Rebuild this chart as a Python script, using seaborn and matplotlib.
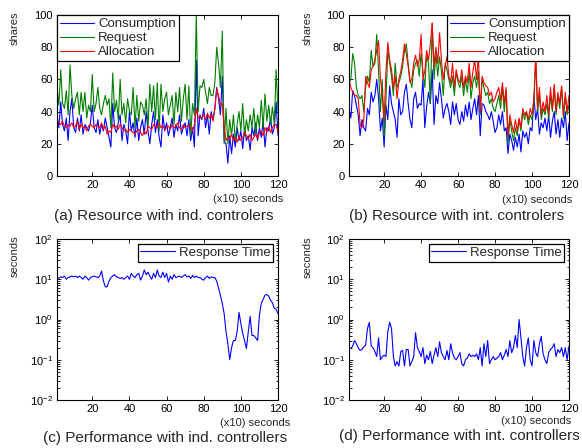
import numpy as np
import pandas as pd
import matplotlib
matplotlib.use("Agg")
import matplotlib.pyplot as plt
import seaborn as sns
from matplotlib.ticker import LogLocator, NullFormatter, FixedLocator

# ---------------- data ----------------
time = list(range(1, 121))

cons_ind = [38, 30, 46, 32, 28, 36, 22, 40, 48, 30,
            27, 36, 28, 38, 26, 32, 30, 28, 33, 44,
            30, 27, 35, 26, 32, 28, 36, 30, 24, 18,
            45, 30, 27, 33, 38, 22, 32, 28, 20, 40,
            28, 33, 24, 36, 22, 30, 35, 26, 40, 28,
            20, 32, 40, 27, 35, 24, 18, 38, 28, 33,
            25, 30, 36, 24, 32, 28, 38, 26, 30, 33,
            25, 35, 22, 30, 18, 72, 25, 38, 35, 42,
            30, 38, 26, 40, 35, 42, 55, 48, 38, 62,
            22, 20, 8, 25, 14, 26, 18, 30, 22, 28,
            17, 30, 22, 25, 16, 30, 25, 33, 22, 30,
            24, 34, 18, 30, 28, 36, 26, 30, 46, 25]

req_ind = [55, 44, 66, 45, 42, 53, 38, 69, 50, 42,
           48, 52, 38, 52, 40, 52, 36, 44, 40, 63,
           40, 45, 55, 42, 38, 45, 50, 44, 48, 30,
           64, 40, 47, 35, 60, 38, 45, 33, 48, 40,
           38, 55, 30, 50, 34, 46, 44, 38, 48, 30,
           57, 40, 56, 35, 58, 28, 57, 40, 48, 52,
           38, 44, 50, 32, 52, 40, 55, 34, 48, 57,
           35, 56, 25, 45, 38, 100, 40, 56, 55, 60,
           52, 45, 55, 50, 50, 58, 80, 70, 55, 90,
           20, 42, 20, 35, 25, 38, 22, 32, 40, 28,
           45, 25, 35, 28, 38, 30, 42, 26, 38, 30,
           47, 30, 51, 34, 44, 32, 43, 32, 66, 40]

alloc_ind = [35, 33, 32, 34, 31, 30, 32, 31, 33, 30,
             31, 34, 29, 32, 30, 31, 28, 31, 32, 31,
             30, 32, 31, 30, 33, 29, 31, 26, 28, 27,
             32, 30, 31, 29, 32, 30, 28, 29, 27, 29,
             28, 27, 26, 28, 29, 27, 25, 28, 26, 31,
             30, 29, 32, 31, 30, 33, 30, 31, 29, 30,
             31, 29, 32, 30, 31, 33, 30, 29, 32, 30,
             31, 32, 30, 28, 32, 42, 36, 37, 36, 38,
             35, 39, 36, 38, 34, 42, 54, 50, 44, 45,
             30, 22, 24, 23, 26, 22, 24, 21, 25, 22,
             24, 27, 25, 23, 26, 22, 24, 26, 23, 27,
             28, 25, 30, 27, 31, 27, 30, 32, 32, 27]

cons_int = [42, 36, 53, 50, 44, 38, 25, 35, 30, 28,
            42, 38, 52, 46, 50, 60, 48, 28, 36, 18,
            44, 35, 56, 45, 40, 35, 24, 48, 38, 40,
            52, 57, 45, 35, 30, 48, 52, 42, 45, 44,
            60, 30, 43, 52, 45, 66, 32, 50, 45, 58,
            48, 36, 42, 45, 40, 32, 46, 38, 45, 35,
            32, 40, 34, 44, 37, 46, 35, 42, 48, 38,
            50, 25, 45, 44, 40, 38, 35, 40, 34, 27,
            30, 38, 32, 40, 28, 30, 14, 26, 22, 16,
            24, 18, 26, 15, 28, 24, 27, 20, 30, 28,
            50, 35, 42, 26, 33, 30, 36, 28, 38, 24,
            34, 40, 26, 35, 24, 36, 30, 40, 22, 33]

req_int = [58, 60, 76, 70, 55, 50, 48, 50, 40, 55,
           62, 58, 78, 68, 70, 88, 65, 40, 60, 25,
           48, 78, 70, 62, 50, 70, 55, 58, 62, 68,
           78, 82, 70, 60, 55, 66, 70, 72, 62, 76,
           65, 55, 75, 70, 45, 95, 60, 76, 62, 74,
           65, 50, 70, 66, 60, 55, 62, 50, 65, 58,
           55, 62, 50, 60, 52, 65, 48, 58, 62, 55,
           65, 38, 60, 55, 50, 52, 45, 48, 42, 40,
           45, 50, 42, 55, 40, 53, 20, 35, 28, 22,
           30, 25, 35, 28, 40, 35, 40, 32, 38, 35,
           45, 73, 40, 50, 35, 42, 38, 45, 36, 50,
           40, 55, 38, 50, 42, 55, 36, 50, 38, 44]

alloc_int = [60, 55, 52, 50, 50, 48, 32, 30, 35, 62,
             58, 55, 66, 68, 72, 78, 84, 60, 50, 35,
             65, 83, 72, 66, 55, 62, 48, 60, 65, 72,
             82, 76, 68, 58, 60, 70, 75, 68, 72, 88,
             60, 65, 78, 72, 82, 95, 68, 80, 70, 89,
             72, 60, 68, 74, 62, 58, 70, 55, 66, 60,
             58, 66, 55, 62, 58, 70, 55, 65, 72, 60,
             75, 40, 62, 58, 56, 55, 50, 52, 46, 48,
             52, 55, 47, 58, 45, 55, 25, 38, 32, 27,
             35, 28, 36, 30, 42, 38, 40, 35, 42, 38,
             48, 75, 42, 55, 38, 46, 40, 50, 38, 55,
             42, 57, 40, 52, 45, 56, 38, 52, 40, 50]

resp_ind = [11, 10.5, 11.5, 11, 12, 10, 11, 11.5, 12, 11.5,
            12, 11, 12, 11, 10, 12, 11, 9.5, 11, 11.5,
            12, 11.5, 11, 12, 16, 9, 6.5, 6.5, 9, 11,
            12, 13, 11.5, 11, 10.5, 11, 10, 11, 12, 10,
            14, 12, 11, 13, 14, 9.5, 12, 17, 13, 15,
            12, 10, 14, 11, 17, 12, 11, 15, 11, 14,
            8.5, 12, 10, 13, 11, 11.5, 12, 11, 12, 13,
            11.5, 12, 10.5, 12.5, 11, 12, 11, 11, 10, 9.5,
            11, 12, 10.5, 11.5, 11, 11, 9, 6, 4, 2.5,
            1.4, 0.5, 0.25, 0.1, 0.2, 0.3, 0.3, 0.5, 1.5, 0.8,
            0.45, 0.3, 0.19, 0.5, 1.2, 0.4, 0.4, 0.35, 0.3, 1.3,
            2.5, 3.2, 4.0, 4.2, 3.8, 3.0, 2.6, 1.9, 1.8, 1.4]

resp_int = [0.2, 0.19, 0.22, 0.3, 0.25, 0.2, 0.17, 0.18, 0.21, 0.23,
            0.6, 0.85, 0.22, 0.2, 0.16, 0.12, 0.35, 0.1, 0.12, 0.13,
            0.12, 0.5, 0.85, 0.6, 0.12, 0.07, 0.09, 0.07, 0.16, 0.17,
            0.07, 0.18, 0.18, 0.07, 0.09, 0.12, 0.47, 0.2, 0.16, 0.12,
            0.2, 0.08, 0.13, 0.1, 0.16, 0.08, 0.13, 0.2, 0.12, 0.28,
            0.15, 0.12, 0.1, 0.17, 0.1, 0.25, 0.15, 0.11, 0.1, 0.12,
            0.15, 0.08, 0.07, 0.1, 0.11, 0.14, 0.12, 0.13, 0.12, 0.14,
            0.1, 0.2, 0.07, 0.25, 0.12, 0.3, 0.08, 0.1, 0.12, 0.1,
            0.11, 0.12, 0.15, 0.1, 0.13, 0.18, 0.12, 0.3, 0.15, 0.2,
            0.4, 0.2, 1.0, 0.35, 0.12, 0.07, 0.2, 0.35, 0.1, 0.07,
            0.3, 0.15, 0.12, 0.25, 0.38, 0.14, 0.1, 0.08, 0.15, 0.18,
            0.2, 0.25, 0.12, 0.18, 0.15, 0.2, 0.12, 0.2, 0.1, 0.22]

xticks = [20, 40, 60, 80, 100, 120]
share_ticks = [0, 20, 40, 60, 80, 100]
captions = ["(a) Resource with ind. controlers",
            "(b) Resource with int. controlers",
            "(c) Performance with ind. controllers",
            "(d) Performance with int. controllers"]

# ---------------- style ----------------
sns.set_style("ticks")
plt.rcParams["font.family"] = ["Liberation Sans", "DejaVu Sans"]
plt.rcParams["mathtext.fontset"] = "custom"
plt.rcParams["mathtext.rm"] = "Liberation Sans"
plt.rcParams["mathtext.default"] = "regular"
plt.rcParams["axes.linewidth"] = 0.8
plt.rcParams["axes.edgecolor"] = "black"

W, H = 582, 448
fig = plt.figure(figsize=(W / 100, H / 100), dpi=100)
fig.patch.set_facecolor("white")


def axrect(l, t, r, b):
    return [l / W, 1 - b / H, (r - l) / W, (b - t) / H]


ax_a = fig.add_axes(axrect(57, 15, 278, 176))
ax_b = fig.add_axes(axrect(349, 15, 569, 176))
ax_c = fig.add_axes(axrect(57, 239, 278, 400))
ax_d = fig.add_axes(axrect(349, 239, 569, 400))

BLUE = "#0000ff"
GREEN = "#007f00"
RED = "#ff0000"
LW = 0.8
TICK_FS = 8
LEG_FS = 9.5


def style_common(ax):
    ax.set_xlim(1, 120)
    ax.xaxis.set_major_locator(FixedLocator(xticks))
    ax.tick_params(axis="both", which="both", direction="in", top=True, right=True,
                   labelsize=TICK_FS, colors="black", width=0.6)
    ax.tick_params(axis="both", which="major", length=3, pad=3)
    ax.tick_params(axis="both", which="minor", length=1.8)
    ax.set_xlabel("")
    ax.set_ylabel("")
    for s in ax.spines.values():
        s.set_visible(True)
        s.set_color("black")
        s.set_linewidth(0.8)


def legend(ax, loc, pad):
    leg = ax.legend(loc=loc, fontsize=LEG_FS, frameon=True, fancybox=False,
                    edgecolor="black", framealpha=1, borderaxespad=pad,
                    handlelength=2.6, handletextpad=0.3, borderpad=0.22,
                    labelspacing=0.14)
    leg.get_frame().set_linewidth(0.9)


for ax, c, r, a in [(ax_a, cons_ind, req_ind, alloc_ind),
                    (ax_b, cons_int, req_int, alloc_int)]:
    sns.lineplot(x=time, y=c, ax=ax, color=BLUE, linewidth=LW, label="Consumption")
    sns.lineplot(x=time, y=r, ax=ax, color=GREEN, linewidth=LW, label="Request")
    sns.lineplot(x=time, y=a, ax=ax, color=RED, linewidth=LW, label="Allocation")
    style_common(ax)
    ax.set_ylim(0, 100)
    ax.yaxis.set_major_locator(FixedLocator(share_ticks))
    ax.minorticks_off()

legend(ax_a, "upper left", 0)
legend(ax_b, "upper right", 0)

for ax, rt in [(ax_c, resp_ind), (ax_d, resp_int)]:
    sns.lineplot(x=time, y=rt, ax=ax, color=BLUE, linewidth=LW, label="Response Time")
    ax.set_yscale("log")
    style_common(ax)
    ax.set_ylim(1e-2, 1e2)
    ax.yaxis.set_major_locator(LogLocator(base=10, numticks=10))
    ax.yaxis.set_minor_locator(LogLocator(base=10, subs=np.arange(2, 10), numticks=20))
    ax.yaxis.set_minor_formatter(NullFormatter())
    ax.xaxis.set_minor_locator(FixedLocator([]))
    legend(ax, "upper right", 0.35)


def ftext(x, y, s, **kw):
    fig.text(x / W, 1 - y / H, s, **kw)


CAP_FS = 11
XL_FS = 8
YL_FS = 8
ftext(164, 216, captions[0], ha="center", va="center", fontsize=CAP_FS)
ftext(457, 216, captions[1], ha="center", va="center", fontsize=CAP_FS)
ftext(43, 438, captions[2], ha="left", va="center", fontsize=CAP_FS)
ftext(339, 436, captions[3], ha="left", va="center", fontsize=CAP_FS)

ftext(283, 199, "(x10) seconds", ha="right", va="center", fontsize=XL_FS)
ftext(572, 200, "(x10) seconds", ha="right", va="center", fontsize=XL_FS)
ftext(290, 423, "(x10) seconds", ha="right", va="center", fontsize=XL_FS)
ftext(571, 421, "(x10) seconds", ha="right", va="center", fontsize=XL_FS)

ftext(15, 28, "shares", ha="center", va="center", rotation=90, fontsize=YL_FS)
ftext(308, 28, "shares", ha="center", va="center", rotation=90, fontsize=YL_FS)
ftext(15, 256, "seconds", ha="center", va="center", rotation=90, fontsize=YL_FS)
ftext(308, 257, "seconds", ha="center", va="center", rotation=90, fontsize=YL_FS)

fig.savefig("out.png", dpi=100, facecolor="white")
